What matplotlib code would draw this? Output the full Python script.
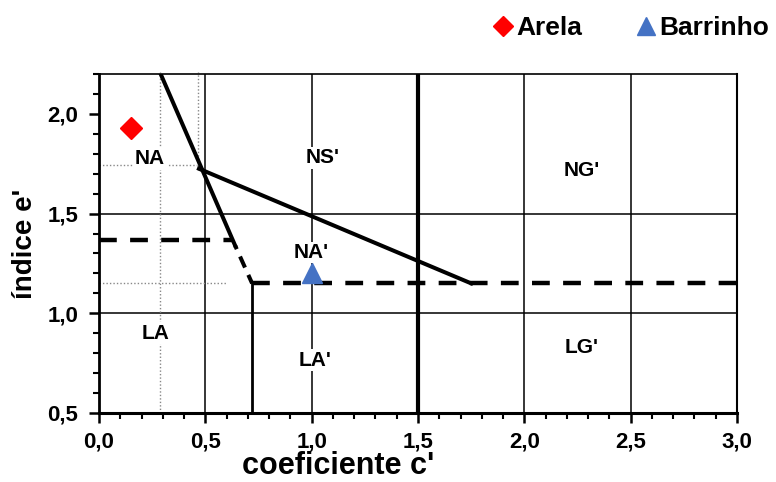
import matplotlib
matplotlib.use("Agg")
import matplotlib.pyplot as plt
from matplotlib.ticker import MultipleLocator, FuncFormatter

plt.rcParams['font.family'] = ['Liberation Sans', 'DejaVu Sans']
plt.rcParams['font.weight'] = 'bold'

# Samples
sample_names = ["Arela", "Barrinho"]
sample_c = [0.15, 1.0]
sample_e = [1.93, 1.20]
sample_colors = ["#ff0000", "#4472c4"]
sample_markers = ["D", "^"]

# Classification boundaries (c', e')
steep_c = [0.29, 0.64]
steep_e = [2.20, 1.34]
steep_dash_c = [0.64, 0.72]
steep_dash_e = [1.34, 1.15]
slope_c = [0.47, 1.75]
slope_e = [1.725, 1.15]
upper_dash_c = [0.0, 0.63]
upper_dash_e = [1.37, 1.37]
lower_dash_c = [0.72, 3.0]
lower_dash_e = [1.15, 1.15]
split_c = [0.72, 0.72]
split_e = [0.5, 1.15]

# Zone labels
zone_text = ["NA", "NS'", "NA'", "LA", "LA'", "NG'", "LG'"]
zone_c = [0.24, 1.05, 1.0, 0.265, 1.015, 2.27, 2.27]
zone_e = [1.775, 1.78, 1.305, 0.90, 0.765, 1.715, 0.83]

W, H = 776, 482
fig = plt.figure(figsize=(W / 100, H / 100), dpi=100)
ax = fig.add_axes([99 / W, 1 - 413 / H, 638 / W, 339 / H])
ax.set_xlim(0, 3.0)
ax.set_ylim(0.5, 2.2)

# grid
for xv in [0.5, 1.0, 2.0, 2.5]:
    ax.axvline(xv, color="black", lw=1.1, zorder=1)
ax.axvline(1.5, color="black", lw=3.0, zorder=1)
for yv in [1.0, 1.5]:
    ax.axhline(yv, color="black", lw=1.1, zorder=1)

# dotted guide lines
dot = (0, (1, 1.5))
ax.plot([0.285, 0.285], [0.5, 2.21], color="#888888", lw=1.0, ls=dot, zorder=1, clip_on=False)
ax.plot([0.465, 0.465], [1.72, 2.21], color="#888888", lw=1.0, ls=dot, zorder=1, clip_on=False)
ax.plot([0.0, 0.46], [1.745, 1.745], color="#888888", lw=1.0, ls=dot, zorder=1)
ax.plot([0.0, 0.60], [1.15, 1.15], color="#888888", lw=1.0, ls=dot, zorder=1)

# boundaries
ax.plot(steep_c, steep_e, color="black", lw=2.9, zorder=3)
ax.plot(steep_dash_c, steep_dash_e, color="black", lw=2.9, ls=(2, (3, 2)), zorder=3)
ax.plot(slope_c, slope_e, color="black", lw=2.9, zorder=3)
ax.plot(upper_dash_c, upper_dash_e, color="black", lw=3.2, ls=(0, (4, 3)), zorder=3)
ax.plot(lower_dash_c, lower_dash_e, color="black", lw=3.2, ls=(0, (4, 3)), zorder=3, clip_on=False)
ax.plot(split_c, split_e, color="black", lw=2.0, zorder=3)

for t, c, e in zip(zone_text, zone_c, zone_e):
    ax.text(c, e, t, ha="center", va="center", fontsize=15, fontweight="bold",
            bbox=dict(facecolor="white", edgecolor="none", pad=1.0), zorder=2)

handles = []
for n, c, e, col, m in zip(sample_names, sample_c, sample_e, sample_colors, sample_markers):
    h, = ax.plot([c], [e], marker=m, color=col, ms=14 if m == "^" else 11, ls="none",
                 zorder=5, label=n)
    handles.append(h)

leg = fig.legend(handles=handles, loc="center left", bbox_to_anchor=(490 / W, 1 - 28 / H),
                 ncol=2, frameon=False, fontsize=19, handletextpad=0.0, columnspacing=1.9,
                 handlelength=1.0, borderaxespad=0.0, borderpad=0.0, markerscale=0.95)
for txt in leg.get_texts():
    txt.set_fontweight("bold")

ax.xaxis.set_major_locator(MultipleLocator(0.5))
ax.xaxis.set_minor_locator(MultipleLocator(0.1))
ax.yaxis.set_major_locator(MultipleLocator(0.5))
ax.yaxis.set_minor_locator(MultipleLocator(0.1))
fmt = FuncFormatter(lambda v, p: f"{v:.1f}".replace(".", ","))
ax.xaxis.set_major_formatter(fmt)
ax.yaxis.set_major_formatter(fmt)
ax.tick_params(which="major", direction="out", length=7, width=1.8, labelsize=16)
ax.tick_params(axis="x", which="major", pad=6)
ax.tick_params(axis="y", which="major", pad=8)
ax.tick_params(which="minor", direction="out", length=4, width=1.5)
for lab in ax.get_xticklabels() + ax.get_yticklabels():
    lab.set_fontweight("bold")

ax.spines["left"].set_linewidth(2.0)
ax.spines["bottom"].set_linewidth(2.2)
ax.spines["top"].set_linewidth(1.2)
ax.spines["right"].set_linewidth(1.5)

fig.text(338 / W, 1 - 474 / H, "coeficiente c'", ha="center", va="baseline",
         fontsize=22, fontweight="bold")
fig.text(25 / W, 1 - 244 / H, "índice e'", ha="center", va="center", rotation=90,
         fontsize=20, fontweight="bold")

fig.savefig("out.png", dpi=100)
